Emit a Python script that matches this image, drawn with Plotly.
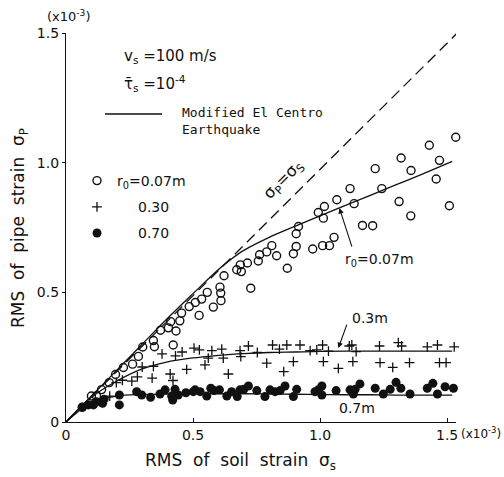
import plotly.graph_objects as go

# ---- data (units of 1e-3) ----
r007_x = [0.064, 0.10, 0.12, 0.14, 0.17, 0.195, 0.226, 0.262, 0.285, 0.302, 0.348, 0.344, 0.372, 0.403,
          0.412, 0.433, 0.422, 0.448, 0.455, 0.485, 0.509, 0.524, 0.534, 0.556, 0.58, 0.606, 0.61,
          0.609, 0.622, 0.672, 0.686, 0.69, 0.714, 0.727, 0.757, 0.762, 0.79, 0.81, 0.829, 0.871,
          0.895, 0.906, 0.906, 0.915, 0.971, 0.993, 1.01, 1.013, 1.017, 1.037, 1.055, 1.066, 1.118,
          1.134, 1.167, 1.207, 1.217, 1.243, 1.311, 1.319, 1.358, 1.357, 1.43, 1.457, 1.47, 1.509, 1.534]
r007_y = [0.057, 0.10, 0.10, 0.125, 0.152, 0.183, 0.21, 0.223, 0.253, 0.289, 0.29, 0.314, 0.354, 0.363,
          0.387, 0.351, 0.297, 0.39, 0.42, 0.445, 0.461, 0.411, 0.474, 0.50, 0.443, 0.52, 0.468,
          0.497, 0.564, 0.587, 0.606, 0.58, 0.613, 0.516, 0.621, 0.645, 0.656, 0.68, 0.641, 0.593,
          0.649, 0.677, 0.726, 0.754, 0.667, 0.808, 0.68, 0.786, 0.831, 0.68, 0.712, 0.857, 0.90,
          0.842, 0.758, 0.757, 0.977, 0.90, 0.85, 1.018, 0.97, 0.795, 1.067, 0.937, 1.009, 0.834, 1.098]

r030_x = [0.172, 0.198, 0.222, 0.259, 0.281, 0.30, 0.339, 0.344, 0.378, 0.41, 0.421, 0.431, 0.457, 0.475,
          0.504, 0.525, 0.547, 0.56, 0.574, 0.613, 0.619, 0.639, 0.685, 0.688, 0.718, 0.753, 0.79,
          0.813, 0.84, 0.857, 0.869, 0.895, 0.921, 0.961, 0.987, 1.01, 1.013, 1.033, 1.072, 1.115,
          1.125, 1.129, 1.142, 1.234, 1.236, 1.286, 1.308, 1.321, 1.352, 1.422, 1.462, 1.47, 1.496, 1.528]
r030_y = [0.10, 0.152, 0.161, 0.158, 0.174, 0.212, 0.169, 0.215, 0.263, 0.185, 0.16, 0.255, 0.27, 0.203,
          0.285, 0.278, 0.22, 0.246, 0.275, 0.281, 0.246, 0.185, 0.275, 0.252, 0.293, 0.268, 0.227,
          0.297, 0.281, 0.194, 0.297, 0.233, 0.297, 0.275, 0.278, 0.297, 0.233, 0.273, 0.207, 0.293,
          0.297, 0.233, 0.271, 0.293, 0.229, 0.211, 0.306, 0.293, 0.229, 0.29, 0.297, 0.229, 0.229, 0.29]

r070_x = [0.064, 0.088, 0.108, 0.12, 0.144, 0.15, 0.21, 0.21, 0.278, 0.298, 0.333, 0.37, 0.39, 0.429,
          0.416, 0.42, 0.442, 0.472, 0.501, 0.508, 0.528, 0.554, 0.57, 0.583, 0.604, 0.633, 0.652,
          0.674, 0.685, 0.70, 0.718, 0.751, 0.783, 0.803, 0.823, 0.843, 0.862, 0.895, 0.908, 0.98,
          0.993, 1.007, 1.007, 1.063, 1.118, 1.131, 1.138, 1.157, 1.217, 1.249, 1.276, 1.299, 1.318,
          1.354, 1.422, 1.444, 1.462, 1.492, 1.525]
r070_y = [0.057, 0.066, 0.066, 0.078, 0.072, 0.088, 0.104, 0.066, 0.117, 0.104, 0.095, 0.108, 0.124, 0.126,
          0.10, 0.085, 0.104, 0.113, 0.117, 0.124, 0.117, 0.10, 0.13, 0.121, 0.124, 0.10, 0.117,
          0.098, 0.124, 0.126, 0.139, 0.121, 0.098, 0.124, 0.117, 0.121, 0.139, 0.098, 0.126, 0.117,
          0.124, 0.139, 0.104, 0.121, 0.124, 0.108, 0.126, 0.147, 0.13, 0.108, 0.126, 0.153, 0.13,
          0.108, 0.13, 0.149, 0.108, 0.136, 0.13]

curve_x = [0, 0.1, 0.2, 0.3, 0.4, 0.5, 0.6, 0.65, 0.7, 0.8, 0.9, 1.0, 1.1, 1.2, 1.3, 1.4, 1.52]
curve_007 = [0, 0.10, 0.20, 0.30, 0.40, 0.495, 0.588, 0.628, 0.662, 0.712, 0.754, 0.795, 0.835, 0.875, 0.915, 0.955, 1.005]
curve_030 = [0, 0.095, 0.158, 0.205, 0.232, 0.247, 0.257, 0.261, 0.264, 0.268, 0.27, 0.272, 0.273, 0.273, 0.273, 0.273, 0.273]
curve_070 = [0, 0.075, 0.100, 0.106, 0.108, 0.109, 0.109, 0.109, 0.109, 0.108, 0.107, 0.106, 0.105, 0.105, 0.104, 0.104, 0.104]
equal_x = [0, 1.54]
equal_y = [0, 1.5]

x_ticks = [0, 0.5, 1.0, 1.5]
x_labels = ["0", "0.5", "1.0", "1.5"]
y_ticks = [0, 0.5, 1.0, 1.5]
y_labels = ["0", "0.5", "1.0", "1.5"]

FONT = "DejaVu Sans"
MONO = "DejaVu Sans Mono"
BLACK = "#111111"
L, R, T, B = 66, 48, 33, 55
W, H = 504, 477
PW, PH = W - L - R, H - T - B


def px(xp):
    return (xp - L) / PW


def py(yp):
    return (H - B - yp) / PH


fig = go.Figure()

fig.add_trace(go.Scatter(x=equal_x, y=equal_y, mode="lines", showlegend=False,
                         line=dict(color=BLACK, width=1.3, dash="11px,6px"), hoverinfo="skip"))
for cy in (curve_007, curve_030, curve_070):
    fig.add_trace(go.Scatter(x=curve_x, y=cy, mode="lines", showlegend=False,
                             line=dict(color=BLACK, width=1.3, shape="spline"), hoverinfo="skip"))

fig.add_trace(go.Scatter(x=r007_x, y=r007_y, mode="markers", name="r<sub>0</sub>=0.07m", legendgroup="a",
                         marker=dict(symbol="circle-open", size=8, color=BLACK, line=dict(width=1.4)),
                         cliponaxis=False))
fig.add_trace(go.Scatter(x=r030_x, y=r030_y, mode="markers", name="\u2002\u2002\u20020.30", legendgroup="b",
                         marker=dict(symbol="cross-thin-open", size=7, color=BLACK, line=dict(width=1.3, color=BLACK)),
                         cliponaxis=False))
fig.add_trace(go.Scatter(x=r070_x, y=r070_y, mode="markers", name="\u2002\u2002\u20020.70", legendgroup="c",
                         marker=dict(symbol="circle", size=9, color=BLACK),
                         cliponaxis=False))

fig.update_layout(
    width=W, height=H,
    margin=dict(l=L, r=R, t=T, b=B),
    paper_bgcolor="white", plot_bgcolor="white",
    font=dict(family=FONT, size=14, color=BLACK),
    legend=dict(x=px(77), y=py(165), xanchor="left", yanchor="top", bgcolor="rgba(0,0,0,0)",
                font=dict(size=14), tracegroupgap=5, itemwidth=30),
    xaxis=dict(range=[0, 1.535], tickvals=x_ticks, ticktext=x_labels, showgrid=False, zeroline=False,
               showline=True, linecolor=BLACK, linewidth=1.3, ticks="inside", ticklen=4,
               tickcolor=BLACK, tickfont=dict(size=14)),
    yaxis=dict(range=[0, 1.5], tickvals=y_ticks, ticktext=y_labels, showgrid=False, zeroline=False,
               showline=True, linecolor=BLACK, linewidth=1.3, ticks="outside", ticklen=3,
               tickcolor=BLACK, tickfont=dict(size=14)),
)


def txt(xp, yp, text, size=14, xanchor="center", family=FONT, **kw):
    return dict(xref="paper", yref="paper", x=px(xp), y=py(yp), text=text, showarrow=False,
                xanchor=xanchor, yanchor="middle", font=dict(size=size, family=family), **kw)


ann = [
    txt(240, 462, "RMS  of  soil  strain  σ<sub>s</sub>", size=17),
    txt(20, 228, "RMS  of  pipe  strain  σ<sub>P</sub>", size=17, textangle=-90),
    txt(68, 16, "(x10<sup>-3</sup>)", size=13),
    txt(481, 433, "(x10<sup>-3</sup>)", size=12),
    txt(122, 56, "v<sub>s</sub> =100 m/s", size=15, xanchor="left"),
    txt(122, 83, "τ\u0304<sub>s</sub> =10<sup>-4</sup>", size=15, xanchor="left"),
    txt(180, 121, "Modified El Centro<br>Earthquake", size=13, xanchor="left", family=MONO, align="left"),
    txt(284, 180, "σ<sub>P</sub>=σ<sub>S</sub>", size=16, textangle=-45),
    txt(343, 260, "r<sub>0</sub>=0.07m", size=14, xanchor="left"),
    txt(350, 318, "0.3m", size=14, xanchor="left"),
    txt(337, 408, "0.7m", size=14, xanchor="left"),
    # arrows
    dict(x=1.076, y=0.825, ax=13, ay=40, text="", showarrow=True, arrowhead=2, arrowsize=1,
         arrowwidth=1.1, arrowcolor=BLACK),
    dict(x=1.072, y=0.285, ax=9, ay=-25, text="", showarrow=True, arrowhead=2, arrowsize=1,
         arrowwidth=1.1, arrowcolor=BLACK),
]
fig.update_layout(annotations=ann)

fig.add_shape(type="line", xref="paper", yref="paper",
              x0=px(105), x1=px(162), y0=py(114), y1=py(114),
              line=dict(color=BLACK, width=1.3))

fig.write_html("out.html")
